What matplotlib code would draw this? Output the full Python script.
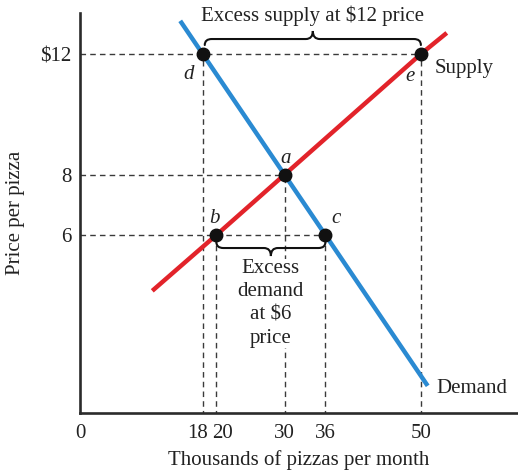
import matplotlib
matplotlib.use("Agg")
import matplotlib.pyplot as plt
from matplotlib.path import Path
from matplotlib.patches import PathPatch
from matplotlib.transforms import ScaledTranslation

# ---------------- data ----------------
demand_q = [14.7, 18, 30, 36, 51.0]
demand_p = [13.1, 12, 8, 6, 1.0]
supply_q = [10.6, 20, 30, 50, 53.8]
supply_p = [4.15, 6, 8, 12, 12.7]

point_names = ["a", "b", "c", "d", "e"]
point_q = [30, 20, 36, 18, 50]
point_p = [8, 6, 6, 12, 12]

x_ticks = [0, 18, 20, 30, 36, 50]
x_tick_labels = ["0", "18", "20", "30", "36", "50"]
y_ticks = [6, 8, 12]
y_tick_labels = ["6", "8", "$12"]

excess_supply_text = "Excess supply at $12 price"
excess_demand_text = "Excess\ndemand\nat $6\nprice"

BLUE = "#2a8ad2"
RED = "#e2232a"
DARK = "#2b2b2b"
DASH = "#3a3a3a"
FONT = "Liberation Serif"
FS = 15

plt.rcParams["font.family"] = [FONT, "DejaVu Serif"]

W, H = 518, 471
fig = plt.figure(figsize=(W / 100, H / 100), dpi=100)
ax = fig.add_axes([80 / W, 1 - 413 / H, (517 - 80) / W, (413 - 13) / H])
ax.set_xlim(0, 64.1)
ax.set_ylim(0.1, 13.36)

for s in ["top", "right"]:
    ax.spines[s].set_visible(False)
for s in ["left", "bottom"]:
    ax.spines[s].set_linewidth(1.9)
    ax.spines[s].set_color(DARK)

ax.set_xticks(x_ticks)
ax.set_xticklabels(x_tick_labels)
ax.set_yticks(y_ticks)
ax.set_yticklabels(y_tick_labels)
ax.tick_params(axis="both", length=0, labelsize=FS, colors="#222222")
ax.tick_params(axis="x", pad=8)
ax.tick_params(axis="y", pad=6)

# separate crowded 18 / 20 labels
for lab in ax.get_xticklabels():
    if lab.get_text() == "18":
        lab.set_transform(lab.get_transform() + ScaledTranslation(-5 / 100, 0, fig.dpi_scale_trans))
    if lab.get_text() == "20":
        lab.set_transform(lab.get_transform() + ScaledTranslation(6 / 100, 0, fig.dpi_scale_trans))

ax.set_xlabel("Thousands of pizzas per month", fontsize=FS, color="#222222", labelpad=5)
ax.set_ylabel("Price per pizza", fontsize=FS, color="#222222", labelpad=11)

# dashed guide lines
dash_kw = dict(color=DASH, lw=1.0, ls=(0, (4, 3)), zorder=1)
for q, p in zip(point_q, point_p):
    ax.plot([q, q], [0, p], **dash_kw)
for p in sorted(set(point_p)):
    qmax = max(q for q, pp in zip(point_q, point_p) if pp == p)
    ax.plot([0, qmax], [p, p], **dash_kw)

# curves
ax.plot(demand_q, demand_p, color=BLUE, lw=3.2, solid_capstyle="butt", zorder=3)
ax.plot(supply_q, supply_p, color=RED, lw=3.2, solid_capstyle="butt", zorder=3)

# points
ax.plot(point_q, point_p, "o", color="#111111", ms=9, zorder=5)

# point labels
label_off = {"a": (1, 16), "b": (-2, 17), "c": (11, 17), "d": (-14, -20), "e": (-11, -22)}
for n, q, p in zip(point_names, point_q, point_p):
    dx, dy = label_off[n]
    ax.annotate(n, (q, p), xytext=(dx, dy), textcoords="offset pixels",
                ha="center", va="center", fontsize=FS, style="italic", color="#222222")

ax.annotate("Supply", (supply_q[-1], supply_p[-1]), xytext=(-12, -36), textcoords="offset pixels",
            ha="left", va="center", fontsize=FS, color="#222222", annotation_clip=False)
ax.annotate("Demand", (demand_q[-1], demand_p[-1]), xytext=(9, -3), textcoords="offset pixels",
            ha="left", va="center", fontsize=FS, color="#222222", annotation_clip=False)

# braces
fig.canvas.draw()
sx = ax.bbox.width / (ax.get_xlim()[1] - ax.get_xlim()[0])
sy = ax.bbox.height / (ax.get_ylim()[1] - ax.get_ylim()[0])


def brace(x1, x2, y, base_px, h_px, band_px, r_px, up=True):
    u = 1 if up else -1
    yb = y + u * base_px / sy
    yband = yb + u * band_px / sy
    ytip = yb + u * h_px / sy
    xm = (x1 + x2) / 2
    r = r_px / sx
    verts = [(x1, yb), (x1, yband), (x1 + r, yband),
             (xm - r, yband), (xm, yband), (xm, ytip),
             (xm, yband), (xm + r, yband),
             (x2 - r, yband), (x2, yband), (x2, yb)]
    codes = [Path.MOVETO, Path.CURVE3, Path.CURVE3,
             Path.LINETO, Path.CURVE3, Path.CURVE3,
             Path.CURVE3, Path.CURVE3,
             Path.LINETO, Path.CURVE3, Path.CURVE3]
    ax.add_patch(PathPatch(Path(verts, codes), fill=False, lw=1.5, ec="#111111",
                           zorder=4, clip_on=False, capstyle="round"))
    return xm, ytip


xm, yt = brace(18.3, 50, 12, 9, 14, 6, 7, up=True)
ax.text(xm, yt + 15 / sy, excess_supply_text, ha="center", va="center",
        fontsize=FS, color="#222222", clip_on=False)

xm, yt = brace(20, 36, 6, 7, 14, 6, 7, up=False)
ax.text(xm, yt - 3 / sy, excess_demand_text, ha="center", va="top", fontsize=FS,
        color="#222222", linespacing=1.3,
        bbox=dict(fc="white", ec="none", pad=0))

fig.savefig("out.png", dpi=100)
